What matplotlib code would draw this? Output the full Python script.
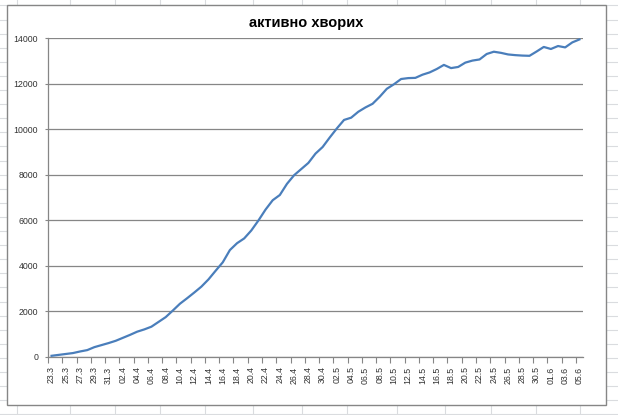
import numpy as np
import pandas as pd
import matplotlib
matplotlib.use("Agg")
import matplotlib.pyplot as plt
from matplotlib.lines import Line2D
from matplotlib.patches import Rectangle

# дані: активно хворих по днях, 23.3 - 05.6
dates = pd.date_range("2020-03-23", "2020-06-05", freq="D")
labels = [f"{d.day:02d}.{d.month}" for d in dates]

active = [
    40, 80, 120, 160, 230, 290, 420, 510, 600, 700,
    830, 960, 1100, 1200, 1320, 1530, 1740, 2030, 2330, 2570,
    2820, 3080, 3400, 3780, 4150, 4690, 4990, 5200, 5550, 5990,
    6470, 6880, 7110, 7600, 7980, 8250, 8520, 8930, 9220, 9640,
    10040, 10410, 10510, 10770, 10960, 11120, 11430, 11780, 11980, 12210,
    12250, 12260, 12400, 12500, 12650, 12830, 12690, 12740, 12930, 13020,
    13070, 13310, 13410, 13360, 13290, 13260, 13240, 13230, 13420, 13620,
    13530, 13660, 13600, 13820, 13950,
]

title = "активно хворих"
yticks = np.arange(0, 14001, 2000)

W, H = 618, 415
plt.rcParams["font.family"] = ["Liberation Sans", "DejaVu Sans"]

fig = plt.figure(figsize=(W / 100, H / 100), dpi=100)
fig.patch.set_facecolor("white")

def fx(px):
    return px / W

def fy(py):
    return 1 - py / H

# сітка аркуша Excel на фоні
sheet_color = "#dadcdf"
for py in np.arange(5.5, H, 14.1):
    fig.add_artist(Line2D([0, 1], [fy(py), fy(py)], transform=fig.transFigure,
                          color=sheet_color, lw=0.8, zorder=0))
for px in [17, 70, 115, 160, 205, 253, 302, 347, 397, 445, 491, 536, 580]:
    fig.add_artist(Line2D([fx(px), fx(px)], [0, 1], transform=fig.transFigure,
                          color=sheet_color, lw=0.8, zorder=0))

# область діаграми
fig.add_artist(Rectangle((fx(7), fy(405)), fx(606) - fx(7), fy(5) - fy(405),
                         transform=fig.transFigure, facecolor="white",
                         edgecolor="#868686", lw=1.0, zorder=1))

ax = fig.add_axes([fx(48), fy(356.7), fx(583) - fx(48), fy(38.3) - fy(356.7)])
ax.set_zorder(2)
ax.patch.set_alpha(0)

x = np.arange(len(active))
ax.plot(x, active, color="#4a7ebb", lw=1.6, solid_joinstyle="round", zorder=3)

ax.set_xlim(-0.5, len(active) - 0.5)
ax.set_ylim(0, 14000)
ax.set_yticks(yticks)
ax.set_yticklabels([str(v) for v in yticks])
ax.grid(axis="y", color="#868686", lw=0.9)
ax.set_axisbelow(True)

# мітки категорій через одну, риски на межах категорій
ax.set_xticks(np.arange(-0.5, len(active) - 1, 2))
ax.set_xticklabels([])
ax.set_xticks(x[::2], minor=True)
ax.set_xticklabels(labels[::2], minor=True, rotation=90, fontsize=6.3, color="#333333")
ax.tick_params(axis="x", which="major", length=4, color="#868686", width=0.8)
ax.tick_params(axis="x", which="minor", length=0, pad=7)
ax.tick_params(axis="y", length=2, color="#868686", labelsize=6.3,
               labelcolor="#333333", pad=5)

for side in ["top", "right"]:
    ax.spines[side].set_visible(False)
for side in ["left", "bottom"]:
    ax.spines[side].set_color("#868686")
    ax.spines[side].set_linewidth(0.9)

fig.text(fx(306), fy(23), title, ha="center", va="center",
         fontsize=10.5, fontweight="bold", color="black", zorder=3)

fig.savefig("out.png", dpi=100)
